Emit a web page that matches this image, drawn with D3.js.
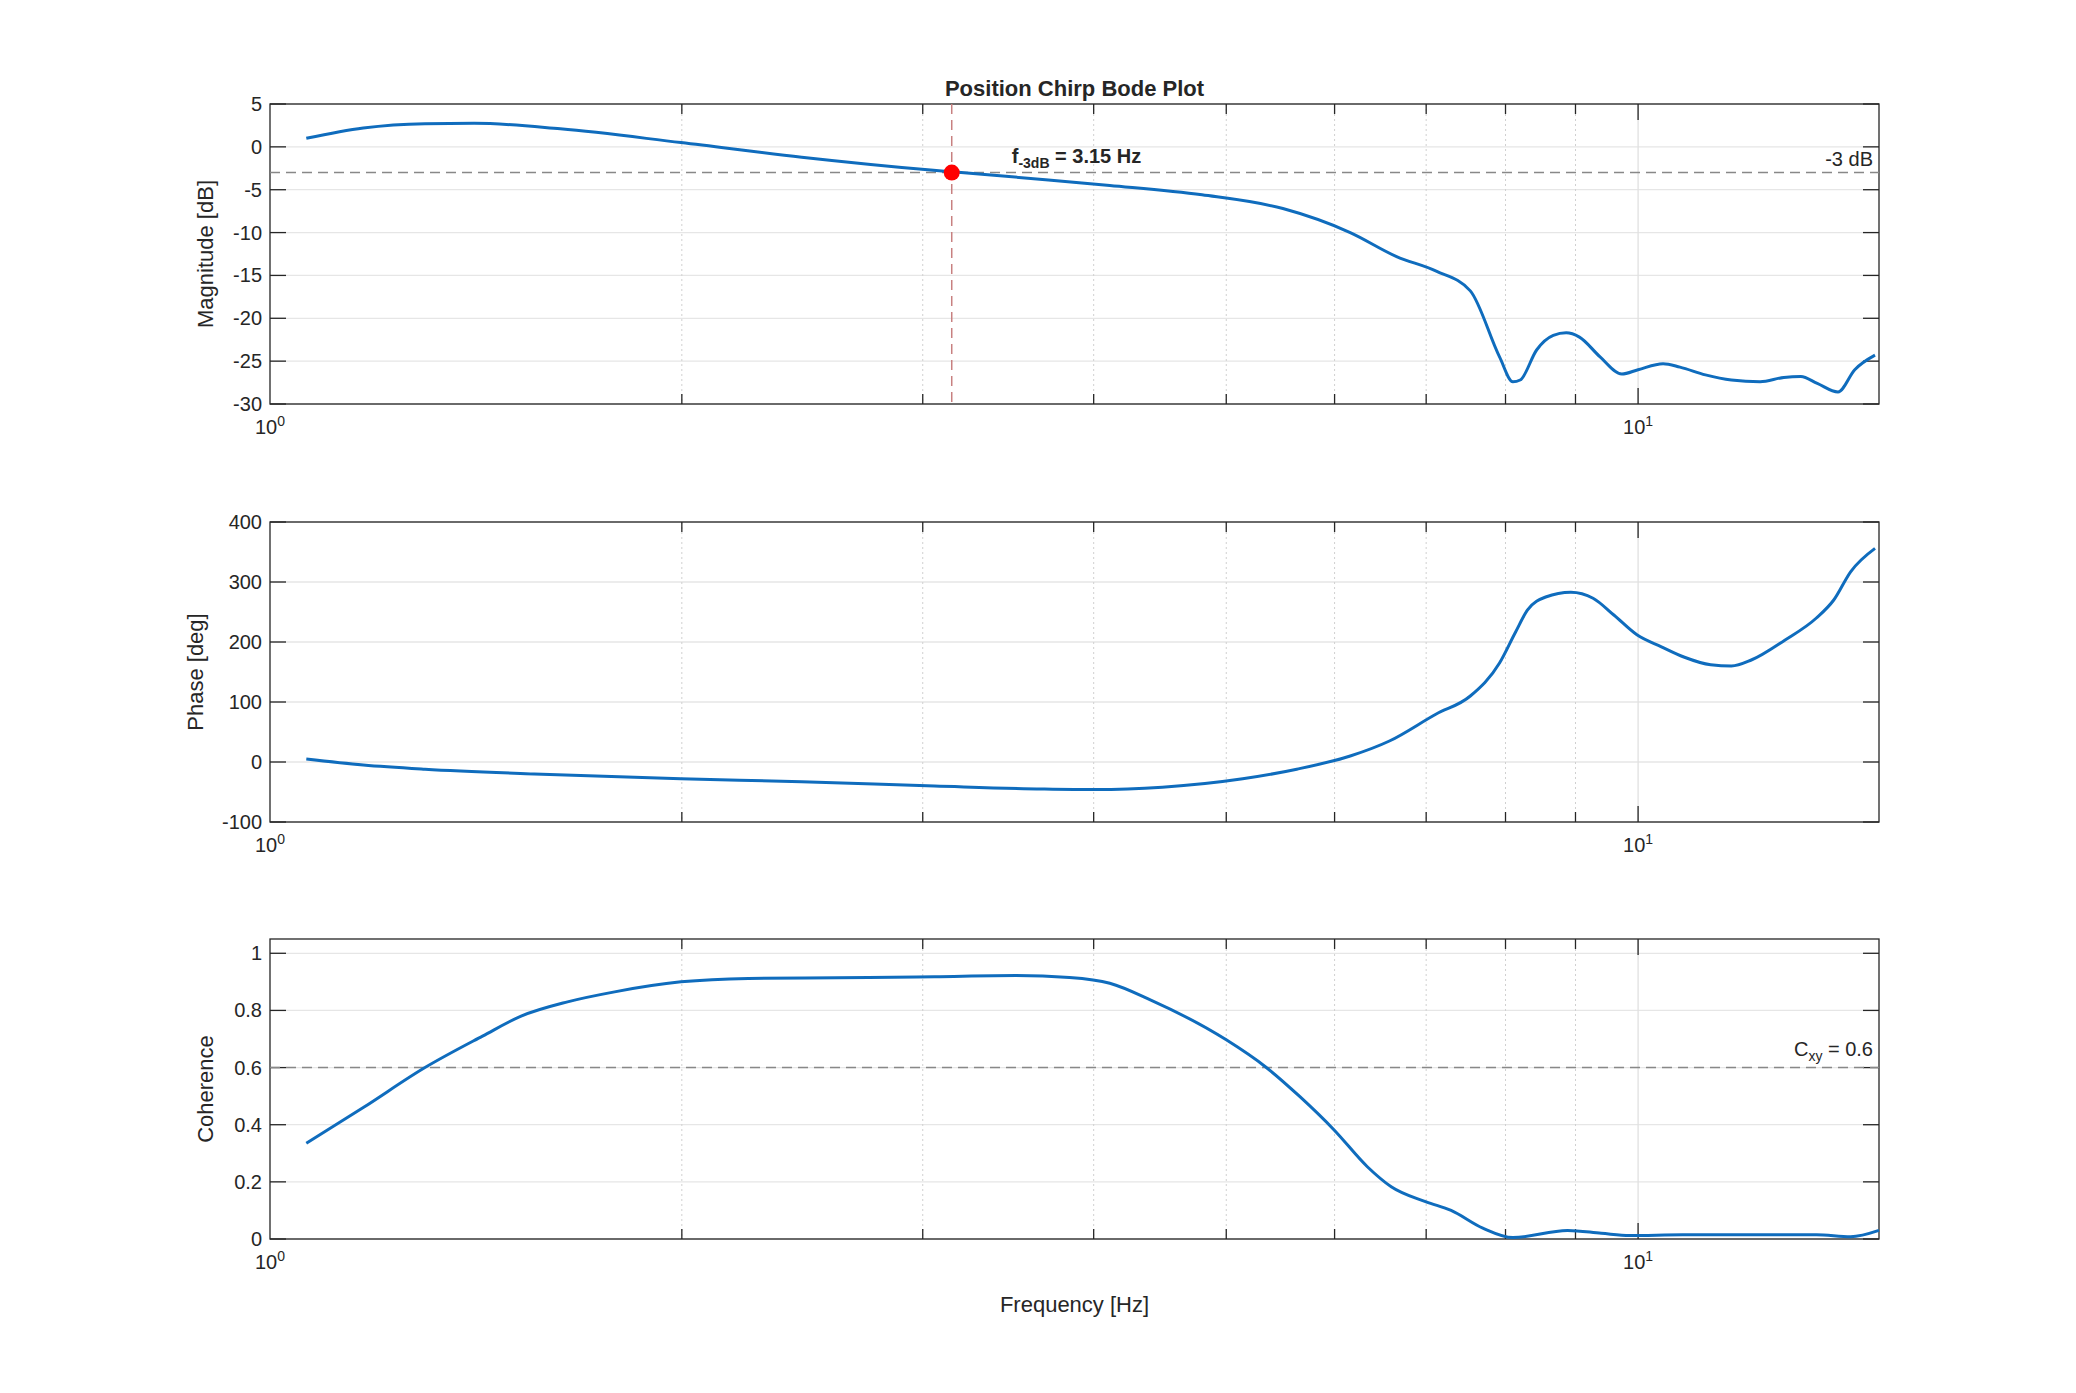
<!DOCTYPE html>
<html><head><meta charset="utf-8">
<script src="https://cdn.jsdelivr.net/npm/d3@7"></script>
<style>
body { margin:0; background:#fff; }
text { font-family: "Liberation Sans", Arial, sans-serif; fill:#262626; }
</style></head>
<body><svg id="chart" width="2076" height="1393"></svg>
<script>
// magnitude [dB]
var magFreq = [1.063,1.17,1.298,1.41,1.63,1.997,2.447,3.04,3.2,3.67,4.11,4.8,5.5,6.16,6.66,7.12,7.54,7.92,8.10,8.2,8.43,8.67,8.86,9.06,9.38,9.73,10.0,10.43,10.73,11.2,11.7,12.28,12.78,13.15,13.52,14.0,14.4,14.9];
var magVals = [1.0,2.2,2.7,2.75,2.1,0.5,-1.2,-2.7,-3.0,-3.8,-4.5,-5.6,-7.2,-10,-12.8,-14.5,-16.8,-24.5,-27.4,-27.2,-23.7,-22.0,-21.7,-22.2,-24.5,-26.5,-26.0,-25.3,-25.7,-26.6,-27.2,-27.4,-26.9,-26.8,-27.6,-28.6,-26.0,-24.3];
// phase [deg]
var phFreq = [1.063,1.17,1.298,1.56,1.997,2.447,3.06,3.67,4.01,4.49,5.14,5.63,6.16,6.58,7.12,7.54,7.92,8.13,8.3,8.56,8.93,9.27,9.6,9.98,10.4,10.8,11.3,11.7,12.1,12.8,13.5,13.9,14.3,14.9];
var phVals = [5,-5,-12,-20,-28,-33,-40,-45,-46,-42,-28,-12,10,35,80,110,165,215,253,275,283,273,245,212,192,175,162,160,170,203,240,270,317,356];
// coherence
var cohFreq = [1.063,1.17,1.298,1.43,1.526,1.65,1.786,1.997,2.237,2.74,3.06,3.51,3.84,4.11,4.40,5.0,5.34,5.66,6.0,6.34,6.6,7.0,7.3,7.7,8.1,8.88,9.4,9.86,10.78,13.5,14.3,15.0];
var cohVals = [0.335,0.46,0.6,0.71,0.78,0.83,0.865,0.9,0.912,0.915,0.918,0.922,0.915,0.895,0.837,0.697,0.603,0.498,0.38,0.253,0.183,0.13,0.1,0.038,0.005,0.03,0.02,0.012,0.015,0.015,0.008,0.03];

var f3dB = 3.15, level3dB = -3, cohThresh = 0.6;
var xDecades = [1, 10];
var minorFreqs = [2,3,4,5,6,7,8,9];

var svg = d3.select("#chart");
var L = 270, R = 1879;
var x = d3.scaleLog().domain([1, 15]).range([L, R]);

var panels = [
    { top:104, bottom:404, dom:[-30,5], ticks:d3.range(-30,6,5), label:"Magnitude [dB]", lx:213, fx:magFreq, vals:magVals },
    { top:522, bottom:822, dom:[-100,400], ticks:d3.range(-100,401,100), label:"Phase [deg]", lx:203, fx:phFreq, vals:phVals },
    { top:939, bottom:1239, dom:[0,1.05], ticks:d3.range(0,1.01,0.2), label:"Coherence", lx:213, fx:cohFreq, vals:cohVals }
];

panels.forEach(function(p, i) {
    var y = d3.scaleLinear().domain(p.dom).range([p.bottom, p.top]);
    p.y = y;
    var g = svg.append("g");
    // grid
    g.selectAll(".hg").data(p.ticks).enter().append("line")
        .attr("x1", L).attr("x2", R).attr("y1", y).attr("y2", y)
        .attr("stroke", "#e6e6e6").attr("stroke-width", 1.3);
    g.selectAll(".mg").data(minorFreqs).enter().append("line")
        .attr("x1", x).attr("x2", x).attr("y1", p.top).attr("y2", p.bottom)
        .attr("stroke", "#d0d0d0").attr("stroke-dasharray", "2,3");
    g.append("line").attr("x1", x(10)).attr("x2", x(10)).attr("y1", p.top).attr("y2", p.bottom)
        .attr("stroke", "#e0e0e0").attr("stroke-width", 1.3);
    // ticks inside
    var tickF = minorFreqs.concat([10]);
    tickF.forEach(function(f) {
        var len = f == 10 ? 16 : 10;
        g.append("line").attr("x1", x(f)).attr("x2", x(f)).attr("y1", p.bottom).attr("y2", p.bottom - len).attr("stroke", "#262626").attr("stroke-width", 1.3);
        g.append("line").attr("x1", x(f)).attr("x2", x(f)).attr("y1", p.top).attr("y2", p.top + len).attr("stroke", "#262626").attr("stroke-width", 1.3);
    });
    p.ticks.forEach(function(t) {
        g.append("line").attr("x1", L).attr("x2", L + 16).attr("y1", y(t)).attr("y2", y(t)).attr("stroke", "#262626").attr("stroke-width", 1.3);
        g.append("line").attr("x1", R).attr("x2", R - 16).attr("y1", y(t)).attr("y2", y(t)).attr("stroke", "#262626").attr("stroke-width", 1.3);
        g.append("text").attr("x", L - 8).attr("y", y(t) + 7).attr("text-anchor", "end")
            .attr("font-size", 20).text(Math.round(t * 10) / 10);
    });
    // x tick labels
    xDecades.forEach(function(d, k) {
        var t = g.append("text").attr("x", x(d)).attr("y", p.bottom + 30).attr("text-anchor", "middle").attr("font-size", 20);
        t.append("tspan").text("10");
        t.append("tspan").attr("dy", -8).attr("font-size", 14).text(k);
    });
    // box
    g.append("rect").attr("x", L).attr("y", p.top).attr("width", R - L).attr("height", p.bottom - p.top)
        .attr("fill", "none").attr("stroke", "#262626").attr("stroke-width", 1.3);
    // y label
    g.append("text").attr("transform", "translate(" + p.lx + "," + ((p.top + p.bottom) / 2) + ") rotate(-90)")
        .attr("text-anchor", "middle").attr("font-size", 22).text(p.label);
    p.g = g;
});

// reference lines
var P0 = panels[0], P2 = panels[2];
P0.g.append("line").attr("x1", L).attr("x2", R).attr("y1", P0.y(level3dB)).attr("y2", P0.y(level3dB))
    .attr("stroke", "#888").attr("stroke-width", 1.5).attr("stroke-dasharray", "10,6");
P0.g.append("line").attr("x1", x(f3dB)).attr("x2", x(f3dB)).attr("y1", P0.top).attr("y2", P0.bottom)
    .attr("stroke", "#c88080").attr("stroke-width", 1.5).attr("stroke-dasharray", "10,6");
P2.g.append("line").attr("x1", L).attr("x2", R).attr("y1", P2.y(cohThresh)).attr("y2", P2.y(cohThresh))
    .attr("stroke", "#888").attr("stroke-width", 1.5).attr("stroke-dasharray", "10,6");

// curves
panels.forEach(function(p) {
    var line = d3.line().x(function(d) { return x(d[0]); }).y(function(d) { return p.y(d[1]); })
        .curve(d3.curveMonotoneX);
    p.g.append("path").datum(d3.zip(p.fx, p.vals)).attr("d", line)
        .attr("fill", "none").attr("stroke", "#0f6cbd").attr("stroke-width", 3);
});

P0.g.append("circle").attr("cx", x(f3dB)).attr("cy", P0.y(level3dB)).attr("r", 8).attr("fill", "#ff0000");

// annotations
var fl = P0.g.append("text").attr("x", x(f3dB) + 60).attr("y", 163).attr("font-size", 20).attr("font-weight", "bold");
fl.append("tspan").text("f");
fl.append("tspan").attr("dy", 5).attr("font-size", 14).text("-3dB");
fl.append("tspan").attr("dy", -5).text(" = 3.15 Hz");
P0.g.append("text").attr("x", R - 6).attr("y", P0.y(level3dB) - 7).attr("text-anchor", "end").attr("font-size", 20).text("-3 dB");
var cl = P2.g.append("text").attr("x", R - 6).attr("y", P2.y(cohThresh) - 12).attr("text-anchor", "end").attr("font-size", 20);
cl.append("tspan").text("C");
cl.append("tspan").attr("dy", 5).attr("font-size", 14).text("xy");
cl.append("tspan").attr("dy", -5).text(" = 0.6");

svg.append("text").attr("x", (L + R) / 2).attr("y", 96).attr("text-anchor", "middle")
    .attr("font-size", 22).attr("font-weight", "bold").text("Position Chirp Bode Plot");
svg.append("text").attr("x", (L + R) / 2).attr("y", 1312).attr("text-anchor", "middle")
    .attr("font-size", 22).text("Frequency [Hz]");
</script></body></html>
